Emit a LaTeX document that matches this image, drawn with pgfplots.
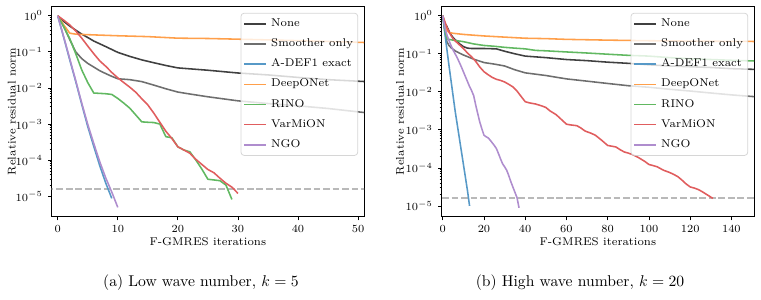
\documentclass[border=0pt]{standalone}
\usepackage{pgfplots}
\pgfplotsset{compat=1.18}

\definecolor{cNone}{RGB}{64,64,64}
\definecolor{cSmooth}{RGB}{110,110,110}
\definecolor{cADEF}{RGB}{87,153,199}
\definecolor{cDeep}{RGB}{255,159,74}
\definecolor{cRINO}{RGB}{97,184,97}
\definecolor{cVar}{RGB}{224,93,94}
\definecolor{cNGO}{RGB}{175,141,206}
\definecolor{cTol}{RGB}{185,185,185}

\pgfplotsset{
  convstyle/.style={
    scale only axis,
    width=199.9pt, height=134.8pt,
    axis line style={black, line width=0.6pt},
    tick align=outside,
    tick pos=left,
    major tick length=2.3pt,
    minor tick length=1.3pt,
    tick style={black, line width=0.5pt},
    ytick={1e-5,1e-4,1e-3,1e-2,1e-1,1},
    ticklabel style={font=\fontsize{7.2}{8.6}\selectfont},
    label style={font=\fontsize{7.2}{8.6}\selectfont},
    xlabel={F-GMRES iterations},
    ylabel={Relative residual norm},
    xlabel style={at={(axis description cs:0.5,0)}, anchor=center, yshift=-16.2pt},
    clip=true,
    legend cell align=left,
    legend image code/.code={\draw[##1, line width=1pt, draw opacity=1] (0pt,0pt) -- (14.3pt,0pt);},
    legend style={
      at={(0.981,0.968)}, anchor=north east,
      font=\fontsize{7.2}{8.6}\selectfont,
      draw=black!20, rounded corners=2pt, line width=0.5pt,
      fill=white, fill opacity=0.8, text opacity=1, draw opacity=0.8,
      inner xsep=1.5pt, inner ysep=1.5pt,
      row sep=2.3pt,
      nodes={inner xsep=1.5pt, inner ysep=1.8pt, text height=5.2pt, text depth=1.8pt},
      /tikz/every odd column/.append style={column sep=1pt},
    },
    every axis plot/.append style={line width=1pt, line join=round},
  },
}

\begin{document}
\begin{tikzpicture}
\useasboundingbox (0,0) rectangle (487.04pt,192pt);

% ---------- (a) k = 5 ----------
\begin{axis}[ymode=log, convstyle,
  at={(33.1pt,53.3pt)}, anchor=south west,
  xmin=-1, xmax=51, ymin=2.7e-6, ymax=1.86,
  xtick={0,10,20,30,40,50},
  ylabel style={at={(axis description cs:-0.128,0.5)}, anchor=center},
]
\addplot[cTol, no markers, line width=1pt, dash pattern=on 4.3pt off 1.8pt, forget plot]
  coordinates {(-5,1.6e-5) (60,1.6e-5)};
\addplot[cNone, no markers] coordinates {
(0,1) (1,0.7) (2,0.52) (3,0.4) (4,0.31) (5,0.25) (6,0.2) (8,0.14) (10,0.097)
(12,0.075) (14,0.06) (16,0.05) (18,0.042) (20,0.036) (25,0.031) (30,0.026)
(35,0.023) (40,0.0196) (45,0.017) (52,0.0148)};
\addlegendentry{None}
\addplot[cSmooth, no markers] coordinates {
(0,1) (1,0.5) (2,0.22) (3,0.1) (4,0.065) (5,0.048) (6,0.038) (7,0.03) (8,0.025)
(9,0.021) (10,0.018) (12,0.017) (14,0.015) (16,0.012) (18,0.0095) (20,0.0077)
(22,0.0068) (25,0.0057) (30,0.0044) (35,0.0037) (40,0.0032) (45,0.0027) (52,0.002)};
\addlegendentry{Smoother only}
\addplot[cADEF, no markers] coordinates {
(0,1) (1,0.25) (2,0.06) (3,0.015) (4,0.0035) (5,8.5e-4) (6,2.4e-4) (7,7e-5)
(8,2.3e-5) (9,8.7e-6)};
\addlegendentry{A-DEF1 exact}
\addplot[cDeep, no markers] coordinates {
(0,1) (1,0.56) (2,0.33) (3,0.31) (5,0.30) (10,0.28) (15,0.265) (20,0.24)
(25,0.235) (30,0.225) (35,0.215) (40,0.205) (45,0.195) (52,0.18)};
\addlegendentry{DeepONet}
\addplot[cRINO, no markers] coordinates {
(0,1) (1,0.501) (2,0.234) (3,0.0891) (4,0.0316) (5,0.0141) (6,0.00724)
(7,0.00708) (8,0.00692) (9,0.00661) (10,0.00513) (11,0.0038) (12,0.00275)
(13,0.00178) (14,0.00115) (15,0.00112) (16,0.0011) (17,0.001) (18,4.47e-4)
(19,4.17e-4) (20,2.34e-4) (21,1.91e-4) (22,1.7e-4) (23,1e-4) (24,5.62e-5)
(25,2.95e-5) (26,2.82e-5) (27,2.69e-5) (28,2.04e-5) (29,8.13e-6)};
\addlegendentry{RINO}
\addplot[cVar, no markers] coordinates {
(0,1) (1,0.759) (2,0.562) (3,0.38) (4,0.24) (5,0.145) (6,0.0891) (7,0.0562)
(8,0.0398) (9,0.0269) (10,0.0191) (11,0.0141) (12,0.0105) (13,0.00759)
(14,0.00501) (15,0.00339) (16,0.002) (17,0.00112) (18,6.31e-4) (19,3.98e-4)
(20,2.34e-4) (21,1.91e-4) (22,1.55e-4) (23,1.05e-4) (24,7.59e-5) (25,5.5e-5)
(26,4.47e-5) (27,3.16e-5) (28,2.29e-5) (29,1.78e-5) (30,1.2e-5)};
\addlegendentry{VarMiON}
\addplot[cNGO, no markers] coordinates {
(0,1) (1,0.26) (2,0.065) (3,0.016) (4,0.0038) (5,9.8e-4) (6,2.9e-4) (7,9e-5)
(8,3.2e-5) (9,1.3e-5) (10,4.9e-6)};
\addlegendentry{NGO}
\end{axis}

% ---------- (b) k = 20 ----------
\begin{axis}[ymode=log, convstyle,
  at={(282.7pt,53.3pt)}, anchor=south west,
  xmin=-0.5, xmax=151, ymin=5.2e-6, ymax=1.8,
  xtick={0,20,40,60,80,100,120,140},
  ylabel style={at={(axis description cs:-0.1335,0.5)}, anchor=center},
]
\addplot[cTol, no markers, line width=1pt, dash pattern=on 4.3pt off 1.8pt, forget plot]
  coordinates {(-5,1.6e-5) (160,1.6e-5)};
\addplot[cNone, no markers] coordinates {
(0,1) (1,0.631) (2,0.525) (3,0.398) (4,0.316) (5,0.269) (6,0.234) (7,0.214)
(8,0.186) (10,0.155) (12,0.141) (14,0.138) (20,0.138) (26,0.135) (30,0.117)
(35,0.1) (40,0.0871) (50,0.0794) (60,0.0708) (70,0.0661) (80,0.0603)
(90,0.0562) (100,0.0513) (110,0.0479) (120,0.0457) (130,0.0437) (140,0.0407)
(152,0.0389)};
\addlegendentry{None}
\addplot[cSmooth, no markers] coordinates {
(0,1) (1,0.398) (2,0.209) (3,0.166) (4,0.145) (6,0.12) (8,0.105) (10,0.0933)
(15,0.0724) (20,0.0589) (25,0.0537) (30,0.0479) (35,0.038) (40,0.0316)
(50,0.0269) (60,0.0219) (70,0.0191) (80,0.0166) (90,0.0145) (100,0.0132)
(110,0.0117) (120,0.0105) (130,0.00933) (140,0.00832) (152,0.00741)};
\addlegendentry{Smoother only}
\addplot[cADEF, no markers] coordinates {
(0,1) (1,0.355) (2,0.132) (3,0.0501) (4,0.02) (5,0.00794) (6,0.00316)
(7,0.00141) (8,6.31e-4) (9,2.82e-4) (10,1.26e-4) (11,5.62e-5) (12,2.51e-5)
(13,1e-5)};
\addlegendentry{A-DEF1 exact}
\addplot[cDeep, no markers] coordinates {
(0,1) (1,0.631) (2,0.417) (3,0.363) (5,0.347) (10,0.324) (15,0.309) (20,0.295)
(30,0.275) (40,0.257) (50,0.251) (60,0.24) (80,0.229) (100,0.221) (120,0.216)
(152,0.211)};
\addlegendentry{DeepONet}
\addplot[cRINO, no markers] coordinates {
(0,1) (1,0.447) (2,0.251) (3,0.24) (5,0.229) (10,0.209) (15,0.182) (20,0.166)
(25,0.158) (30,0.148) (35,0.141) (40,0.135) (45,0.123) (50,0.12) (60,0.112)
(70,0.105) (80,0.0977) (90,0.0912) (100,0.0871) (110,0.0794) (120,0.0741)
(130,0.0708) (140,0.0676) (152,0.0646)};
\addlegendentry{RINO}
\addplot[cVar, no markers] coordinates {
(0,1) (1,0.708) (2,0.501) (3,0.38) (4,0.302) (5,0.251) (6,0.219) (8,0.174)
(10,0.138) (12,0.105) (14,0.0832) (16,0.0631) (18,0.0447) (20,0.0339)
(22,0.0282) (24,0.024) (26,0.0214) (28,0.02) (30,0.0182) (32,0.0158)
(34,0.0135) (36,0.0105) (38,0.00759) (40,0.0055) (42,0.00513) (45,0.00479)
(48,0.00427) (50,0.00389) (52,0.00316) (55,0.00251) (58,0.00178) (60,0.00141)
(62,0.00135) (65,0.00129) (67,0.00112) (69,9.33e-4) (72,8.13e-4) (74,7.24e-4)
(77,5.37e-4) (80,3.89e-4) (82,3.72e-4) (84,3.55e-4) (86,3.02e-4) (88,2.63e-4)
(90,2.45e-4) (92,2.24e-4) (95,1.86e-4) (98,1.48e-4) (100,1.23e-4)
(102,1.15e-4) (104,1.07e-4) (107,8.71e-5) (110,7.59e-5) (112,6.76e-5)
(114,5.89e-5) (116,4.79e-5) (118,3.8e-5) (120,3.16e-5) (122,2.95e-5)
(124,2.69e-5) (126,2.34e-5) (128,2e-5) (131,1.58e-5)};
\addlegendentry{VarMiON}
\addplot[cNGO, no markers] coordinates {
(0,1) (1,0.501) (2,0.316) (3,0.224) (4,0.166) (5,0.126) (6,0.1) (7,0.0794)
(8,0.0603) (9,0.0457) (10,0.0339) (11,0.0251) (12,0.0186) (13,0.0138)
(14,0.0107) (15,0.00794) (16,0.00447) (17,0.00263) (18,0.00158) (19,0.00105)
(20,7.24e-4) (21,6.61e-4) (22,6.17e-4) (23,5.37e-4) (24,4.57e-4) (25,3.89e-4)
(26,3.24e-4) (27,2.4e-4) (28,1.74e-4) (29,1.29e-4) (30,1.07e-4) (31,8.71e-5)
(32,6.31e-5) (33,4.37e-5) (34,3.16e-5) (35,2.29e-5) (36,1.66e-5) (37,8.91e-6)};
\addlegendentry{NGO}
\end{axis}

% ---------- sub-captions ----------
\node[font=\fontsize{10}{12}\selectfont, anchor=center] at (128.6pt,10.9pt)
  {(a) Low wave number, $k=5$};
\node[font=\fontsize{10}{12}\selectfont, anchor=center] at (371.2pt,10.9pt)
  {(b) High wave number, $k=20$};
\end{tikzpicture}
\end{document}
